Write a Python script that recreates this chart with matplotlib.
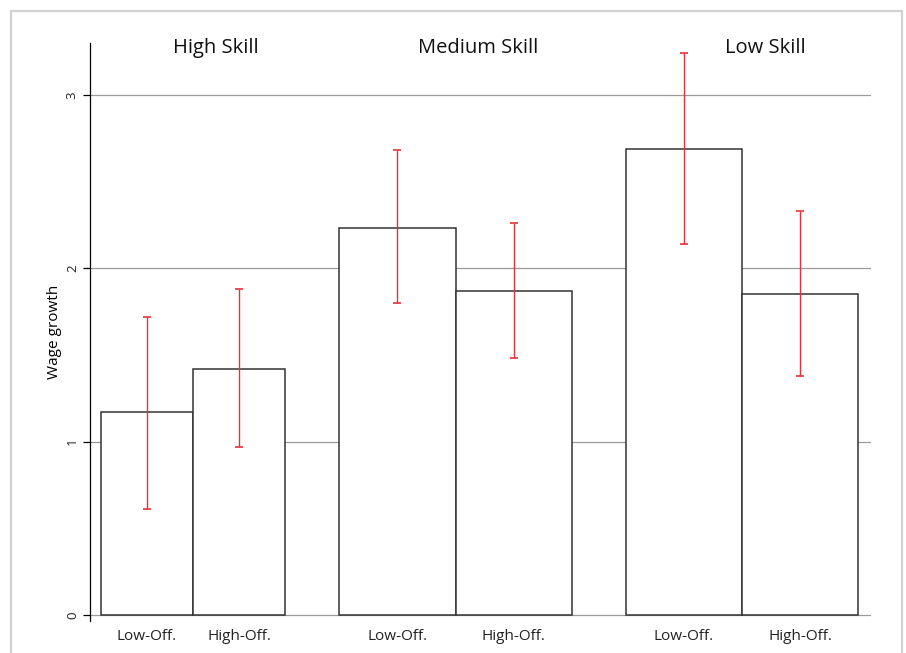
import matplotlib.pyplot as plt
from matplotlib.patches import Rectangle

plt.rcParams["font.family"] = ["Open Sans", "DejaVu Sans"]

groups = ["High Skill", "Medium Skill", "Low Skill"]
offshoring = ["Low-Off.", "High-Off."]
growth = [[1.17, 1.42], [2.23, 1.87], [2.69, 1.85]]
ci_low = [[0.61, 0.97], [1.80, 1.48], [2.14, 1.38]]
ci_high = [[1.72, 1.88], [2.68, 2.26], [3.24, 2.33]]

# bar widths per group and spacing (axis units)
bar_w = [0.92, 1.165, 1.16]
gap = 0.54
start = 0.11

fig = plt.figure(figsize=(9.06, 6.53), dpi=100)
ax = fig.add_axes([90 / 906, 32 / 653, 781 / 906, 578 / 653])

# light frame around the whole graph
fig.patches.append(Rectangle((11 / 906, -0.05), 891 / 906, 1.05 - 11 / 653,
                             transform=fig.transFigure, fill=False,
                             edgecolor="#d2d2d2", lw=1.6))

for yv in [0, 1, 2, 3]:
    ax.axhline(yv, color="#9a9a9a", lw=0.9, zorder=0)

xpos, xlab = [], []
x = start
for g, name in enumerate(groups):
    w = bar_w[g]
    for i in range(2):
        c = x + w / 2
        ax.bar(c, growth[g][i], width=w, color="white", edgecolor="#333333",
               lw=1.1, zorder=2)
        ax.errorbar(c, (ci_low[g][i] + ci_high[g][i]) / 2,
                    yerr=(ci_high[g][i] - ci_low[g][i]) / 2,
                    fmt="none", ecolor="#e8303a", elinewidth=1, capsize=3,
                    capthick=1.2, zorder=3)
        xpos.append(c)
        xlab.append(offshoring[i])
        x += w
    ax.text(x - w + 0.23, 3.27, name, ha="center", va="center",
            fontsize=14.5, color="#111111")
    x += gap

ax.set_xlim(0, 7.81)
ax.set_ylim(-0.035, 3.30)
ax.set_xticks(xpos)
ax.set_xticklabels(xlab, fontsize=11, color="#222222")
ax.tick_params(axis="x", length=0, pad=6)
ax.set_yticks([0, 1, 2, 3])
ax.set_yticklabels(["0", "1", "2", "3"], rotation=90, va="center",
                   fontsize=9.5, color="#222222")
ax.tick_params(axis="y", length=5, width=0.9, pad=3)
ax.set_ylabel("Wage growth", fontsize=11, labelpad=3)

for s in ["top", "right", "bottom"]:
    ax.spines[s].set_visible(False)
ax.spines["left"].set_linewidth(0.9)

fig.savefig("out.png", dpi=100)
